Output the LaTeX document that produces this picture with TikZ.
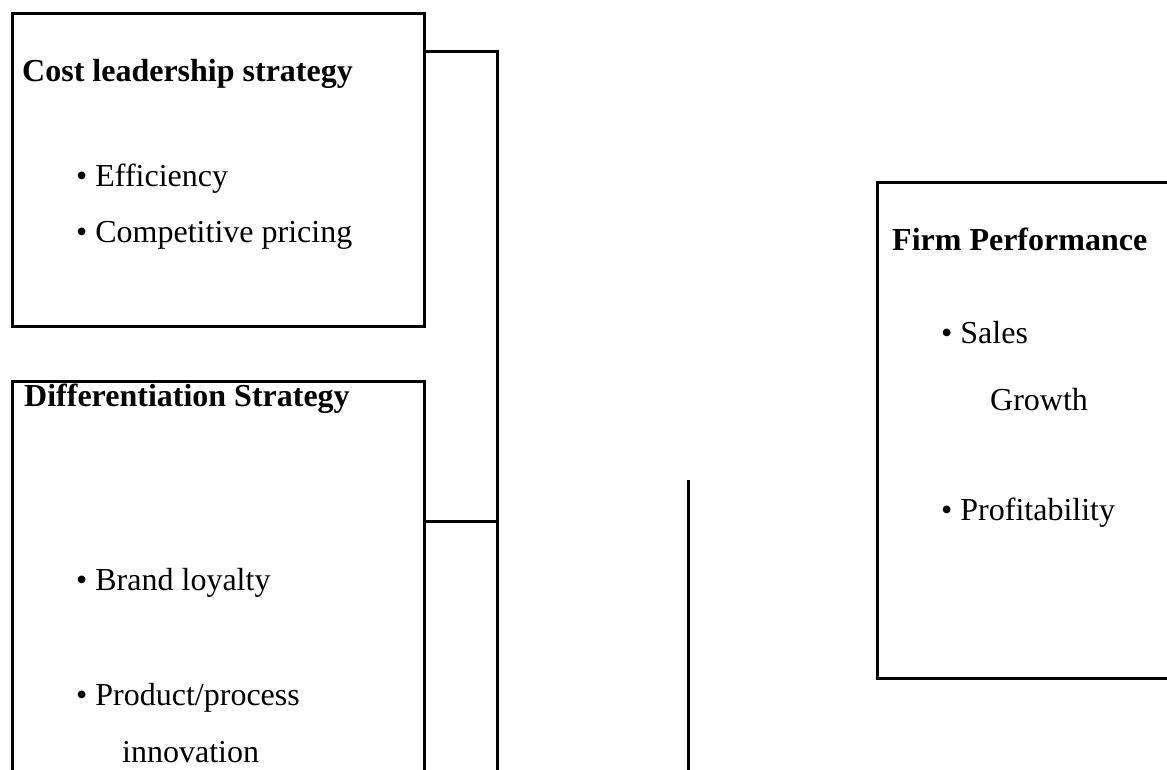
\documentclass[tikz,border=0pt]{standalone}
\usepackage{fontspec}
\setmainfont{Liberation Serif}
\begin{document}
\begin{tikzpicture}[x=1pt,y=-1pt,
  frame/.style={draw,line width=3pt,rectangle,anchor=north west,inner sep=0pt},
  txt/.style={anchor=base west,inner sep=0pt,font=\fontsize{32}{38}\selectfont},
  head/.style={txt,font=\fontsize{32}{38}\selectfont\bfseries},
  wire/.style={line width=3pt}]
\useasboundingbox (0,0) rectangle (1167,770);
\clip (0,0) rectangle (1167,770);
% boxes
\node[frame,minimum width=412pt,minimum height=313pt] (b1) at (11,12) {};
\node[frame,minimum width=412pt,minimum height=420pt] (b2) at (11,380) {};
\node[frame,minimum width=320pt,minimum height=496pt] (b3) at (876,181) {};
% texts of the cost box
\node[head] (t1) at (22,82) {Cost leadership strategy};
\node[txt] (t1a) at (76,187) {• Efficiency};
\node[txt] (t1b) at (76,243) {• Competitive pricing};
% texts of the differentiation box
\node[head] (t2) at (24,406) {Differentiation Strategy};
\node[txt] (t2a) at (76,590) {• Brand loyalty};
\node[txt] (t2b) at (76,705) {• Product/process};
\node[txt] (t2c) at (122,762) {innovation};
% texts of the performance box
\node[head] (t3) at (892,251) {Firm Performance};
\node[txt] (t3a) at (941,343) {• Sales};
\node[txt] (t3b) at (990,410) {Growth};
\node[txt] (t3c) at (941,520) {• Profitability};
% connectors
\coordinate (j1) at (497,52);
\coordinate (j2) at (497,521);
\coordinate (jb) at (497,780);
\coordinate (v1) at (688,480);
\coordinate (vb) at (688,780);
\draw[wire] (b1.east|-j1) -- (j1) -- (jb);
\draw[wire] (b2.east|-j2) -- (j2);
\draw[wire] (v1) -- (vb);
\end{tikzpicture}
\end{document}
